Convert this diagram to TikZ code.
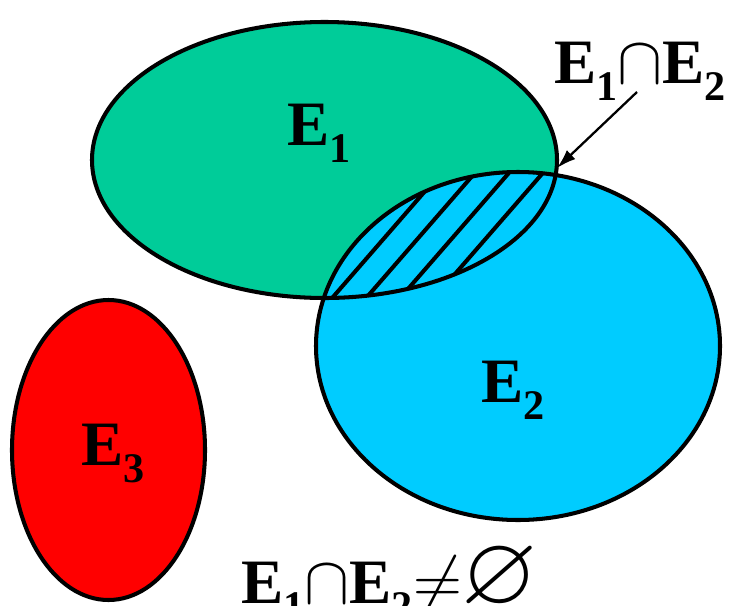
\documentclass[tikz,border=0pt]{standalone}
\usepackage{fontspec}
\usepackage{amssymb}
\usepackage{graphicx}
\usetikzlibrary{arrows.meta}
\setmainfont{Liberation Serif}
\definecolor{setgreen}{RGB}{0,204,153}
\definecolor{setblue}{RGB}{0,204,255}
\definecolor{setred}{RGB}{255,0,0}
\newcommand{\Ev}[1]{E\raisebox{-0.27em}{\fontsize{24}{24}\selectfont #1}}
\newcommand{\bigsym}[1]{\scalebox{1.55}{$#1$}}

\begin{document}
\begin{tikzpicture}[
    x=0.02cm, y=-0.02cm,
    setline/.style={line width=2.3pt},
    lbl/.style={font=\fontsize{36}{40}\selectfont\bfseries, inner sep=0pt, anchor=base west},
    arr/.style={-{Latex[length=11pt, width=7pt]}, line width=1.3pt}
  ]
    \useasboundingbox (0,0) rectangle (733,605);
    % Fills
    \fill[setgreen] (324.5,160) ellipse [x radius=232.5, y radius=138];
    \fill[setblue] (518,346) ellipse [x radius=202, y radius=174];
    \fill[setred] (108.5,450) ellipse [x radius=96.5, y radius=150];
    % Hatching of E1 and E2
    \begin{scope}
      \clip (324.5,160) ellipse [x radius=232.5, y radius=138];
      \clip (518,346) ellipse [x radius=202, y radius=174];
      \foreach \x in {333,367,401,435}
        \draw[setline] (\x-50,354.5) -- ++(250,-287.5);
    \end{scope}
    % Outlines
    \draw[setline] (324.5,160) ellipse [x radius=232.5, y radius=138];
    \draw[setline] (518,346) ellipse [x radius=202, y radius=174];
    \draw[setline] (108.5,450) ellipse [x radius=96.5, y radius=150];
    % Labels
    \node[lbl] (l1) at (287,145) {\Ev{1}};
    \node[lbl] (l2) at (481,402) {\Ev{2}};
    \node[lbl] (l3) at (81,465) {\Ev{3}};
    \node[lbl] (capl) at (554,83) {\Ev{1}\bigsym{\cap}\Ev{2}};
    \node[lbl] (neq) at (241,603) {\Ev{1}\bigsym{\cap}\Ev{2}\bigsym{\neq}\bigsym{\varnothing}};
    % Arrow
    \coordinate (tail) at (637,92);
    \coordinate (meet) at (557,168);
    \draw[arr] (tail) -- (meet);
\end{tikzpicture}
\end{document}
